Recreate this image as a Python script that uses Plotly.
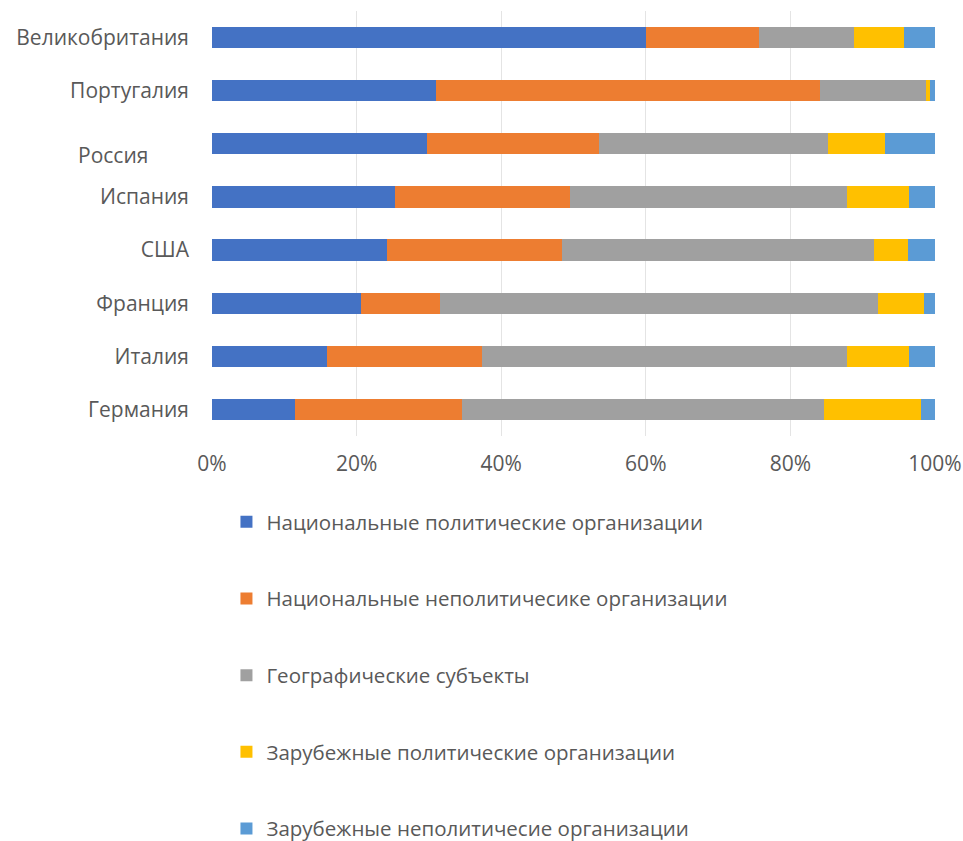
import plotly.graph_objects as go

countries = ["Великобритания", "Португалия", "Россия", "Испания", "США", "Франция", "Италия", "Германия"]
series_names = [
    "Национальные политические организации",
    "Национальные неполитичесике организации",
    "Географические субъекты",
    "Зарубежные политические организации",
    "Зарубежные неполитичесие организации",
]
nat_pol = [60.0, 31.0, 29.7, 25.3, 24.2, 20.6, 15.9, 11.5]
nat_nonpol = [15.7, 53.1, 23.8, 24.2, 24.2, 10.9, 21.4, 23.1]
geo = [13.1, 14.7, 31.7, 38.3, 43.2, 60.6, 50.5, 50.0]
for_pol = [6.9, 0.5, 7.9, 8.6, 4.7, 6.4, 8.6, 13.5]
for_nonpol = [4.3, 0.7, 6.9, 3.6, 3.7, 1.5, 3.6, 1.9]
x_ticks = [0, 20, 40, 60, 80, 100]
x_tick_labels = ["0%", "20%", "40%", "60%", "80%", "100%"]

colors = ["#4472C4", "#ED7D31", "#A0A0A0", "#FFC000", "#5B9BD5"]
values = [nat_pol, nat_nonpol, geo, for_pol, for_nonpol]

fig = go.Figure()
for i, (name, vals) in enumerate(zip(series_names, values)):
    fig.add_trace(go.Bar(
        y=countries, x=vals, name=name, orientation="h",
        marker=dict(color=colors[i], line=dict(width=0)),
        legendgroup=f"g{i}",
    ))

font_family = "Open Sans, sans-serif"
fs = 21
tick_text = [c if c != "Россия" else "" for c in countries]

fig.update_layout(
    width=963, height=841,
    margin=dict(l=212, r=28, t=11, b=405, autoexpand=False),
    barmode="stack", bargap=0.6,
    plot_bgcolor="white", paper_bgcolor="white",
    font=dict(family=font_family, size=fs, color="#595959"),
    xaxis=dict(range=[0, 100], tickvals=x_ticks, ticktext=x_tick_labels,
               showgrid=True, gridcolor="#E4E4E4", gridwidth=1, zeroline=False,
               ticklabelstandoff=13, fixedrange=True, automargin=False),
    yaxis=dict(categoryorder="array", categoryarray=countries[::-1],
               tickvals=countries, ticktext=tick_text,
               showgrid=False, ticklabelstandoff=22, automargin=False),
    legend=dict(orientation="v", x=0.02, xanchor="left",
                yref="container", y=1 - 502 / 841, yanchor="top",
                traceorder="grouped", tracegroupgap=47,
                font=dict(size=20.5, color="#595959")),
    showlegend=True,
    annotations=[dict(text="Россия", xref="paper", yref="paper",
                      x=(76 - 212) / 723, y=(436 - 155) / 425,
                      xanchor="left", yanchor="middle", showarrow=False,
                      font=dict(size=fs, color="#595959"))],
)
fig.write_html("out.html")
